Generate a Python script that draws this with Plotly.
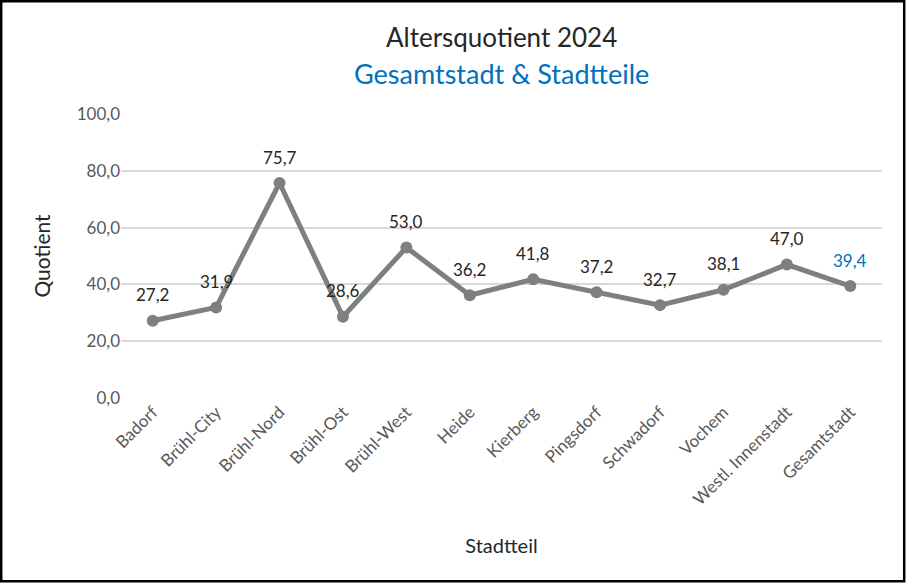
import plotly.graph_objects as go

# data
stadtteile = ['Badorf', 'Brühl-City', 'Brühl-Nord', 'Brühl-Ost', 'Brühl-West', 'Heide',
              'Kierberg', 'Pingsdorf', 'Schwadorf', 'Vochem', 'Westl. Innenstadt', 'Gesamtstadt']
quotient = [27.2, 31.9, 75.7, 28.6, 53.0, 36.2, 41.8, 37.2, 32.7, 38.1, 47.0, 39.4]
y_ticks = [0, 20, 40, 60, 80, 100]

label_text = [f'{v:.1f}'.replace('.', ',') for v in quotient]
label_colors = ['#262626'] * (len(quotient) - 1) + ['#0070C0']

W, H = 906, 583
ml, mr, mt, mb = 121, 24, 114, 185
pw, ph = W - ml - mr, H - mt - mb


def py(pix):
    # pixel row (from top) -> paper y
    return (H - mb - pix) / ph


def px(pix):
    # pixel column -> paper x
    return (pix - ml) / pw


fig = go.Figure()
fig.add_trace(go.Scatter(
    x=stadtteile, y=quotient,
    mode='lines+markers',
    line=dict(color='#7F7F7F', width=5),
    marker=dict(color='#7F7F7F', size=12),
    cliponaxis=False,
    showlegend=False,
    hoverinfo='skip',
))

# data labels above the points (Excel style)
for cat, val, txt, col in zip(stadtteile, quotient, label_text, label_colors):
    fig.add_annotation(x=cat, y=val, text=txt, showarrow=False, yshift=26,
                       font=dict(family='Lato', size=17, color=col))

fig.add_annotation(xref='paper', yref='paper', x=0.5, y=py(37),
                   text='Altersquotient 2024', showarrow=False, yanchor='middle',
                   font=dict(family='Lato', size=26, color='#262626'))
fig.add_annotation(xref='paper', yref='paper', x=0.5, y=py(73),
                   text='Gesamtstadt &amp; Stadtteile', showarrow=False, yanchor='middle',
                   font=dict(family='Lato', size=27, color='#0070C0'))

fig.update_layout(
    width=W, height=H,
    margin=dict(l=ml, r=mr, t=mt, b=mb),
    paper_bgcolor='white', plot_bgcolor='white',
    font=dict(family='Lato', color='#595959'),
    separators=',.',
    xaxis=dict(
        type='category', tickangle=-45, showgrid=False, showline=False,
        tickfont=dict(family='Lato', size=17, color='#595959'), ticks='',
        title=dict(text='Stadtteil', font=dict(family='Lato', size=20, color='#262626'), standoff=30),
        range=[-0.5, len(stadtteile) - 0.5],
    ),
    yaxis=dict(
        range=[0, 100], tickvals=y_ticks, tickformat='.1f',
        gridcolor='#D9D9D9', gridwidth=1.5, zeroline=False, showline=False,
        tickfont=dict(family='Lato', size=17, color='#595959'), ticks='',
        title=dict(text='Quotient', font=dict(family='Lato', size=21, color='#262626'), standoff=20),
    ),
)

# black frame around the whole chart
fig.add_shape(type='rect', xref='paper', yref='paper', layer='above',
              x0=px(1.2), x1=px(W - 1.8), y0=py(H - 1.8), y1=py(1.2),
              line=dict(color='black', width=2.5))

fig.write_html("out.html", config={'displayModeBar': False},
               post_script="document.body.style.margin='0';")
